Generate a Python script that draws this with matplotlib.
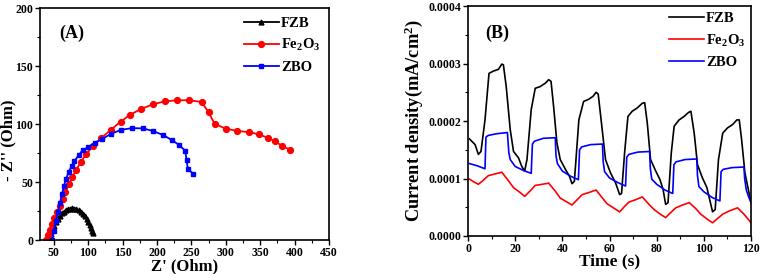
"""Nyquist plot (A) and transient photocurrent (B) for FZB, Fe2O3 and ZBO."""

import matplotlib

matplotlib.use("Agg")

import matplotlib.pyplot as plt
from matplotlib.ticker import MultipleLocator

plt.rcParams["font.family"] = ["Liberation Serif", "DejaVu Serif"]
plt.rcParams["font.weight"] = "bold"
plt.rcParams["axes.labelweight"] = "bold"
plt.rcParams["mathtext.fontset"] = "custom"
plt.rcParams["mathtext.rm"] = "Liberation Serif:bold"
plt.rcParams["mathtext.it"] = "Liberation Serif:bold"
plt.rcParams["mathtext.bf"] = "Liberation Serif:bold"

labels = ["FZB", "Fe$_2$O$_3$", "ZBO"]
colors = ["black", "#ff0000", "#0000ff"]

# (A) impedance, Z' and -Z'' in Ohm
fzb_zre = [44, 46, 48, 50, 53, 56, 59, 62, 65, 68, 71, 74, 77, 80, 83, 86, 89,
           92, 95, 98, 100, 102, 104, 105.5, 107]
fzb_zim = [1, 5, 9, 12, 15.5, 18.5, 21, 23, 24.5, 25.8, 26.6, 27, 27.2, 27,
           26.5, 25.5, 24.2, 22.5, 20.3, 17.8, 15.5, 13, 10.5, 8, 6]
fe_zre = [39, 41, 44, 47, 51, 55, 59, 63, 67, 72, 77, 82, 89, 97, 107, 119, 133,
          147, 161, 177, 194, 211, 229, 247, 265, 275, 284, 300, 317, 334, 349,
          361, 372, 382, 393]
fe_zim = [0, 4, 9, 14, 19, 24, 29, 35, 41, 48, 54, 60, 67, 74, 81, 88, 95, 102,
          108, 113, 117, 119.5, 120.5, 120.5, 119, 110, 100, 96, 94, 93, 91, 88,
          85, 81, 78]
zbo_zre = [48, 50, 53, 56, 59, 62, 65, 68, 72, 76, 80, 86, 92, 100, 110, 120,
           133, 148, 164, 180, 194, 209, 222, 232, 241, 243, 245, 253]
zbo_zim = [0, 8, 16, 24, 32, 40, 47, 53, 59, 64, 68, 73, 77.5, 80, 84, 87, 91.5,
           95, 96.5, 96.2, 94, 90.5, 86, 82, 77, 69, 61, 57]

# (B) transient current density, mA/cm2 (values in units of 1e-4)
fzb_t = [0.6, 3, 4.4, 5.5, 7.2, 8.9, 10.8, 12.9, 14.3, 15, 16.2, 17.9, 19.3,
         21.4, 22.8, 24, 25, 26.8, 28.5, 30.6, 32.8, 34.2, 35.2, 36.3, 37.7,
         39.1, 41.3, 43, 44.1, 45.1, 47, 49, 51.2, 53, 54.3, 55.2, 56.9, 58.3,
         60.4, 62.6, 64.3, 65.1, 66.4, 67.8, 69.6, 71.8, 73.9, 74.9, 76, 77.4,
         79.6, 81.4, 82.7, 83.8, 84.8, 86.2, 87.4, 89.5, 91.6, 93.5, 94.5, 95.9,
         97.3, 99.4, 101.3, 102.6, 103.7, 104.8, 106.2, 108, 110, 112.2, 114,
         115, 116, 117.4, 119.3, 120]
fzb_j = [1.69, 1.59, 1.42, 1.47, 2.02, 2.83, 2.87, 2.90, 2.99, 2.98, 2.60, 1.85,
         1.47, 1.36, 1.21, 1.13, 1.33, 2.20, 2.57, 2.60, 2.66, 2.72, 2.69, 2.25,
         1.62, 1.33, 1.16, 1.04, 0.91, 0.95, 2.02, 2.34, 2.38, 2.43, 2.50, 2.47,
         1.85, 1.33, 1.10, 0.92, 0.72, 0.74, 1.45, 2.08, 2.17, 2.23, 2.31, 2.32,
         1.97, 1.33, 1.13, 0.98, 0.81, 0.55, 0.58, 1.45, 1.91, 2.02, 2.08, 2.15,
         2.17, 1.79, 1.24, 1.01, 0.84, 0.61, 0.42, 0.46, 1.33, 1.79, 1.88, 1.94,
         2.02, 2.02, 1.68, 1.10, 0.72, 0.58]
fe_t = [0.6, 2.5, 4.4, 6.5, 8.6, 11.5, 14.3, 17, 19.3, 22, 24, 26.5, 28.5, 31.5,
        34.2, 37, 39.1, 42, 44.1, 46.5, 48.4, 51.5, 54.3, 57, 59, 62, 64.3, 66.5,
        68.2, 71, 73.9, 76.5, 78.9, 81.5, 83.8, 86, 88.1, 91, 93.8, 96.5, 98.7,
        101.5, 103.7, 106, 108, 111, 114.3, 117, 120]
fe_j = [0.99, 0.94, 0.90, 0.97, 1.05, 1.08, 1.11, 0.97, 0.84, 0.76, 0.69, 0.79,
        0.88, 0.90, 0.92, 0.78, 0.66, 0.59, 0.54, 0.64, 0.72, 0.76, 0.80, 0.66,
        0.56, 0.48, 0.42, 0.52, 0.59, 0.63, 0.68, 0.56, 0.46, 0.38, 0.32, 0.41,
        0.49, 0.54, 0.58, 0.48, 0.38, 0.29, 0.23, 0.31, 0.38, 0.44, 0.49, 0.38,
        0.23]
zbo_t = [0.6, 4, 7.2, 7.6, 8.6, 12.2, 16.7, 17.3, 17.9, 20, 23.5, 26.8, 27.3,
         28.2, 32, 37, 37.3, 37.9, 40, 43.5, 46.8, 47.3, 48.2, 52, 57, 57.3, 57.9,
         60, 63.5, 66.8, 67.3, 68.2, 72, 77, 77.3, 77.9, 80, 83.5, 86.8, 87.3,
         88.2, 92, 97, 97.3, 97.9, 100, 103.5, 106.8, 107.3, 108.2, 112, 117,
         117.3, 118, 119, 120]
zbo_j = [1.26, 1.22, 1.17, 1.72, 1.75, 1.78, 1.80, 1.45, 1.33, 1.21, 1.14, 1.09,
         1.60, 1.65, 1.70, 1.71, 1.40, 1.26, 1.13, 1.04, 0.98, 1.50, 1.55, 1.59,
         1.60, 1.30, 1.12, 1.01, 0.93, 0.87, 1.37, 1.42, 1.46, 1.47, 1.18, 0.99,
         0.90, 0.80, 0.74, 1.24, 1.29, 1.33, 1.34, 1.05, 0.86, 0.77, 0.67, 0.61,
         1.12, 1.16, 1.19, 1.20, 1.00, 0.80, 0.68, 0.58]

fig = plt.figure(figsize=(7.61, 2.74), dpi=100)
ax_a = fig.add_axes([0.0526, 0.124, 0.3797, 0.8467])
ax_b = fig.add_axes([0.615, 0.1387, 0.3719, 0.839])

tick_font = {"family": "Liberation Serif", "weight": "bold", "size": 8.5}

# ---- (A)
ax_a.plot(fzb_zre, fzb_zim, "-^", color=colors[0], ms=3.5, lw=1.3, label=labels[0])
ax_a.plot(fe_zre, fe_zim, "-o", color=colors[1], ms=4.2, lw=1.3, label=labels[1])
ax_a.plot(zbo_zre, zbo_zim, "-s", color=colors[2], ms=3.3, lw=1.3, label=labels[2])
ax_a.set_xlim(30, 450)
ax_a.set_ylim(0, 200)
ax_a.xaxis.set_minor_locator(MultipleLocator(25))
ax_a.yaxis.set_major_locator(MultipleLocator(50))
ax_a.yaxis.set_minor_locator(MultipleLocator(25))
ax_a.set_xticks([50, 100, 150, 200, 250, 300, 350, 400, 450])
ax_a.set_xlabel("Z' (Ohm)", fontsize=12, labelpad=-0.5)
ax_a.set_ylabel("- Z'' (Ohm)", fontsize=12)
ax_a.yaxis.set_label_coords(-0.082, 0.43)
ax_a.text(0.068, 0.87, "(A)", transform=ax_a.transAxes, fontsize=13, fontweight="bold")

# ---- (B)
scale = 1e-4
ax_b.plot(fzb_t, [v * scale for v in fzb_j], color=colors[0], lw=1.2, label=labels[0])
ax_b.plot(fe_t, [v * scale for v in fe_j], color=colors[1], lw=1.2, label=labels[1])
ax_b.plot(zbo_t, [v * scale for v in zbo_j], color=colors[2], lw=1.2, label=labels[2])
ax_b.set_xlim(0, 120)
ax_b.set_ylim(0, 0.0004)
ax_b.xaxis.set_major_locator(MultipleLocator(20))
ax_b.xaxis.set_minor_locator(MultipleLocator(10))
ax_b.yaxis.set_minor_locator(MultipleLocator(0.00005))
ax_b.set_yticks([0, 0.0001, 0.0002, 0.0003, 0.0004])
ax_b.set_yticklabels(["0.0000", "0.0001", "0.0002", "0.0003", "0.0004"])
ax_b.set_xlabel("Time (s)", fontsize=12.5, labelpad=-1)
ax_b.set_ylabel("Current density(mA/cm$^2$)", fontsize=13.2, labelpad=2)
ax_b.text(0.06, 0.86, "(B)", transform=ax_b.transAxes, fontsize=13, fontweight="bold")

for ax, pad in ((ax_a, 0.2), (ax_b, 0.0)):
    for spine in ax.spines.values():
        spine.set_linewidth(1.2)
    ax.tick_params(which="major", direction="out", length=3.5, width=1.0,
                   top=False, right=False, pad=1.5)
    ax.tick_params(which="minor", direction="out", length=2, width=0.8,
                   top=False, right=False)
    for lbl in ax.get_xticklabels() + ax.get_yticklabels():
        lbl.set_fontproperties(tick_font)
    leg = ax.legend(loc="upper right", frameon=False, fontsize=10.5,
                    handlelength=2.4, handletextpad=0.15, labelspacing=0.5,
                    borderaxespad=pad)
    for txt in leg.get_texts():
        txt.set_fontweight("bold")

fig.savefig("out.png", dpi=100)
